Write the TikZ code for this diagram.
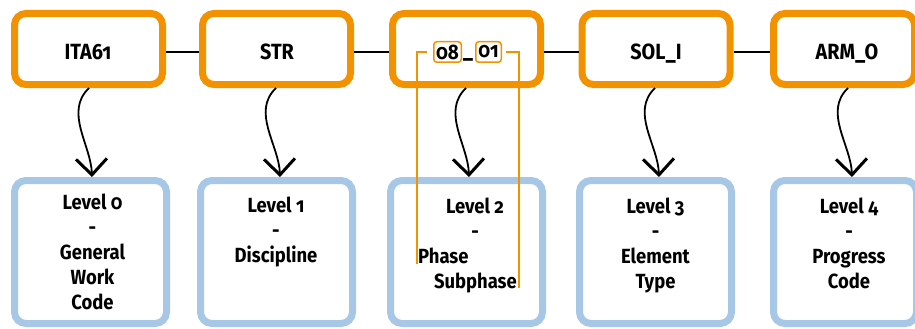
\documentclass[tikz,border=0pt]{standalone}
\usepackage{fontspec}
\setmainfont{Fira Sans}[Numbers=OldStyle, FakeStretch=0.9]
\newfontfamily\topfont{Fira Sans}[Numbers=OldStyle, FakeStretch=0.9]
\usetikzlibrary{arrows.meta,calc}
\definecolor{orng}{RGB}{243,146,0}
\definecolor{lblue}{RGB}{167,199,231}
\begin{document}
\begin{tikzpicture}[x=1pt,y=-1pt,
  topbox/.style={draw=orng, line width=7pt, rounded corners=11.5pt, minimum width=148pt, minimum height=71pt, inner sep=0pt},
  levbox/.style={draw=lblue, line width=7pt, rounded corners=11.5pt, minimum width=152pt, minimum height=143pt, inner sep=0pt},
  codetxt/.style={font=\topfont\bfseries\fontsize{22}{26}\selectfont, anchor=base, inner sep=0pt},
  levtxt/.style={font=\bfseries\fontsize{20.5}{25.2}\selectfont, anchor=base, inner sep=0pt},
  link/.style={line width=2pt, black},
  arr/.style={line width=1.8pt, black, -{Straight Barb[length=16pt,width=31pt,line width=3pt]}},
  bracket/.style={draw=orng, line width=1.5pt},
  subbox/.style={draw=orng, line width=1.5pt, rounded corners=3pt, inner sep=0pt, minimum height=20.5pt, font=\topfont\bfseries\fontsize{21}{24}\selectfont}
]
\useasboundingbox (0,0) rectangle (915,329);
% top code boxes
\node[topbox] (t1) at (88.5,49) {};
\node[topbox] (t2) at (276.5,49) {};
\node[topbox] (t3) at (466.5,49) {};
\node[topbox] (t4) at (656,49) {};
\node[topbox, minimum width=141pt] (t5) at (844,49) {};
\node[codetxt] (c1) at (88,59.5) {ITA61};
\node[codetxt] (c2) at (277,59.5) {STR};
\node[codetxt] (c4) at (656,59.5) {SOL\_I};
\node[codetxt] (c5) at (847,59.5) {ARM\_O};
\node[subbox, minimum width=27.5pt] (p1) at (447.5,52) {08};
\node[codetxt] (u) at (468,57.5) {\_};
\node[subbox, minimum width=25.5pt] (p2) at (488.5,52) {01};
% links between code boxes
\draw[link] ([yshift=-3pt]t1.east) -- ([yshift=-3pt]t2.west);
\draw[link] ([yshift=-3pt]t2.east) -- ([yshift=-3pt]t3.west);
\draw[link] ([yshift=-3pt]t3.east) -- ([yshift=-3pt]t4.west);
\draw[link] ([yshift=-3pt]t4.east) -- ([yshift=-3pt]t5.west);
% level boxes
\node[levbox] (b1) at (90.5,252) {};
\node[levbox] (b2) at (276.5,252) {};
\node[levbox] (b3) at (466.5,252) {};
\node[levbox] (b4) at (655.5,252) {};
\node[levbox, minimum width=143pt] (b5) at (845,252) {};
\node[levtxt] (l1) at (92.5,209) {\begin{tabular}[t]{@{}c@{}}Level 0\\-\\General\\Work\\Code\end{tabular}};
\node[levtxt] (l2) at (276,212) {\begin{tabular}[t]{@{}c@{}}Level 1\\-\\Discipline\end{tabular}};
\node[levtxt] (l3) at (475,213) {\begin{tabular}[t]{@{}c@{}}Level 2\\-\end{tabular}};
\node[levtxt, anchor=base west] (l3a) at (418,263) {Phase};
\node[levtxt, anchor=base east] (l3b) at (517,288) {Subphase};
\node[levtxt] (l4) at (655.5,213) {\begin{tabular}[t]{@{}c@{}}Level 3\\-\\Element\\Type\end{tabular}};
\node[levtxt] (l5) at (849,213) {\begin{tabular}[t]{@{}c@{}}Level 4\\-\\Progress\\Code\end{tabular}};
% arrows
\coordinate (s1) at ([xshift=0.5pt]t1.south); \coordinate (e1) at ([xshift=1.5pt]b1.north);
\coordinate (s2) at ([xshift=-0.5pt]t2.south); \coordinate (e2) at ([xshift=3.5pt]b2.north);
\coordinate (s3) at ([xshift=-0.5pt]t3.south); \coordinate (e3) at ([xshift=2.5pt]b3.north);
\coordinate (s4) at ([xshift=-1pt]t4.south); \coordinate (e4) at ([xshift=3.5pt]b4.north);
\coordinate (s5) at ([xshift=4pt]t5.south); \coordinate (e5) at ([xshift=7pt]b5.north);
\foreach \i in {1,...,5}{
  \draw[arr] (s\i) .. controls ($(s\i)+(-25,24)$) and ($(e\i)+(-1,-32)$) .. (e\i);
}
% phase / subphase brackets
\coordinate (bl) at (417,264);
\coordinate (br) at (519,288);
\draw[bracket] ([xshift=-6pt]p1.west) -| (bl);
\draw[bracket] ([xshift=4pt]p2.east) -| (br);
\end{tikzpicture}
\end{document}
